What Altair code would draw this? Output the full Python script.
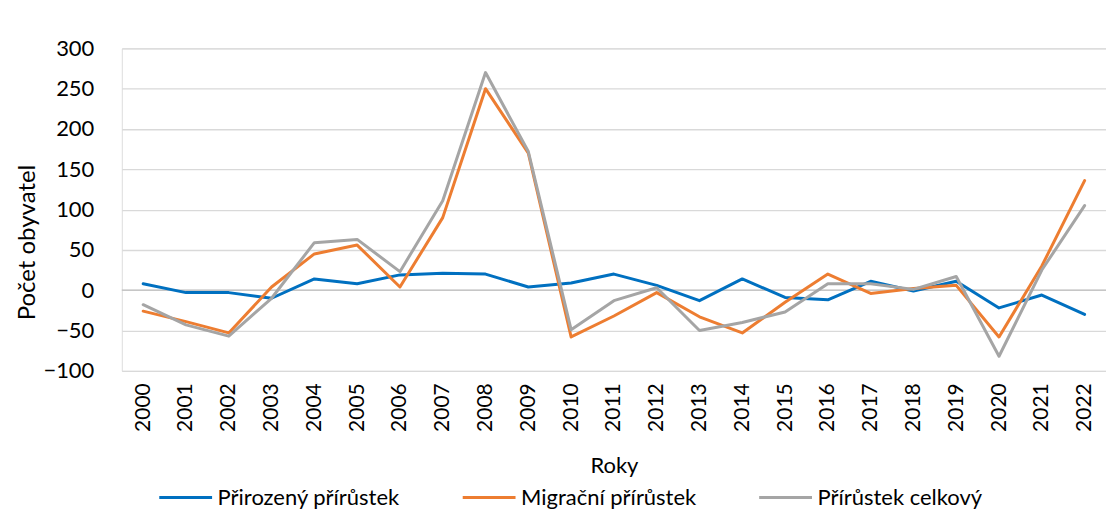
import altair as alt
import pandas as pd

years = [str(y) for y in range(2000, 2023)]
prirozeny = [8, -3, -3, -10, 14, 8, 19, 21, 20, 4, 9, 20, 6, -13, 14, -9, -12, 11, -1, 11, -22, -6, -30]
migracni = [-26, -39, -53, 4, 45, 56, 4, 90, 250, 170, -58, -32, -3, -33, -53, -15, 20, -4, 2, 6, -58, 30, 136]
celkovy = [-18, -43, -57, -10, 59, 63, 23, 111, 270, 172, -49, -13, 3, -50, -40, -27, 8, 8, 1, 17, -82, 25, 105]

series = ["Přirozený přírůstek", "Migrační přírůstek", "Přírůstek celkový"]
colors = ["#0070C0", "#ED7D31", "#A5A5A5"]

rows = []
for name, vals in zip(series, [prirozeny, migracni, celkovy]):
    for i, (y, v) in enumerate(zip(years, vals)):
        rows.append({"Rok": y, "Hodnota": v, "Řada": name, "poradi": series.index(name)})
df = pd.DataFrame(rows)

FONT = "Lato"

x = alt.X("Rok:O", sort=years,
          axis=alt.Axis(title="Roky", labelAngle=270, labelAlign="right", labelBaseline="middle",
                        labelFontSize=21, labelPadding=12, ticks=False, domain=False,
                        labelColor="#000000", titleColor="#000000", titleFontSize=22,
                        titleFontWeight="normal", titleY=95, titleBaseline="middle",
                        labelFont=FONT, titleFont=FONT, grid=False))
y = alt.Y("Hodnota:Q",
          scale=alt.Scale(domain=[-100, 300], nice=False, zero=False),
          axis=alt.Axis(title="Počet obyvatel", values=list(range(-100, 301, 50)),
                        labelFontSize=22, labelPadding=28, ticks=False, domain=False,
                        gridColor="#d9d9d9", gridWidth=1.3,
                        labelColor="#000000", titleColor="#000000", titleFontSize=24,
                        titleFontWeight="normal", titleAngle=270, titleX=-94, titleY=194,
                        titleAlign="center", titleBaseline="middle",
                        labelFont=FONT, titleFont=FONT))

lines = alt.Chart(df).mark_line(strokeWidth=3, strokeCap="round", strokeJoin="round").encode(
    x=x, y=y,
    color=alt.Color("Řada:N", sort=series,
                    scale=alt.Scale(domain=series, range=colors),
                    legend=alt.Legend(title=None, orient="none", direction="horizontal",
                                      legendX=36, legendY=422,
                                      symbolType="stroke", symbolSize=2800, symbolStrokeWidth=3,
                                      labelFontSize=22, labelFont=FONT, labelColor="#000000",
                                      labelLimit=400,
                                      labelOffset=4, columnPadding=56)),
    order=alt.Order("poradi:Q"),
)

zero = alt.Chart(pd.DataFrame({"v": [0]})).mark_rule(color="#bfbfbf", strokeWidth=1.3).encode(y=alt.Y("v:Q"))

chart = alt.layer(zero, lines).properties(
    width=986, height=323,
    autosize=alt.AutoSizeParams(type="none"),
    padding={"left": 114, "top": 40, "right": 0, "bottom": 140},
).configure_view(stroke=None).configure(background="#ffffff")

chart.save("out.html", embed_options={"renderer": "svg", "actions": False})
